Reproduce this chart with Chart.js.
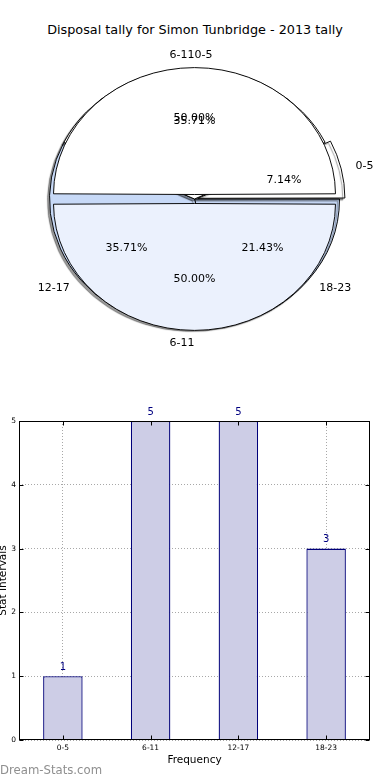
<!DOCTYPE html>
<html>
<head>
<meta charset="utf-8">
<script src="https://cdn.jsdelivr.net/npm/chart.js@4/dist/chart.umd.min.js"></script>
<style>
  html, body { margin: 0; padding: 0; background: #fff; }
  body { width: 390px; height: 780px; position: relative; overflow: hidden; font-family: "DejaVu Sans", sans-serif; }
  #title { position: absolute; left: 0; top: 21px; width: 390px; text-align: center; font-size: 12.8px; color: #000; line-height: 18px; }
  canvas { position: absolute; }
  #pie1, #pie2 { left: 0; top: 0; }
  #bar { left: 0; top: 400px; }
  #wm { position: absolute; left: 0; top: 762px; font-size: 11.7px; font-weight: normal; color: #8f8f8f; line-height: 16px; }
</style>
</head>
<body>
<div id="title">Disposal tally for Simon Tunbridge - 2013 tally</div>
<canvas id="pie1" width="390" height="400"></canvas>
<canvas id="pie2" width="390" height="400"></canvas>
<canvas id="bar" width="390" height="380"></canvas>
<div id="wm">Dream-Stats.com</div>
<script>
// ---- data ----
const categories = ['0-5', '6-11', '12-17', '18-23'];
const frequencies = [1, 5, 5, 3];
// overlapping second pie drawn by the source (two halves, labelled 0-5 and 6-11)
const overlayCategories = ['0-5', '6-11'];
const overlayValues = [7, 7];
const yTickValues = [0, 1, 2, 3, 4, 5];

// matplotlib draws counter-clockwise from 3 o'clock; Chart.js clockwise, so reverse order
const rev = a => a.slice().reverse();

const SQUASH = 0.9;

function squashPlugin(shadow) {
  return {
    id: 'squash',
    beforeDatasetsDraw(chart) {
      const ctx = chart.ctx;
      const a = chart.chartArea;
      const cy = (a.top + a.bottom) / 2;
      ctx.save();
      ctx.translate(0, cy);
      ctx.scale(1, SQUASH);
      ctx.translate(0, -cy);
      if (shadow) {
        ctx.shadowColor = 'rgba(0,0,0,0.4)';
        ctx.shadowOffsetX = -2;
        ctx.shadowOffsetY = 2;
        ctx.shadowBlur = 1;
      }
    },
    afterDatasetsDraw(chart) {
      chart.ctx.restore();
    }
  };
}

function drawPieLabels(ctx, chart, vertAlign) {
  const meta = chart.getDatasetMeta(0);
  const ds = chart.data.datasets[0];
  const total = ds.data.reduce((s, v) => s + v, 0);
  meta.data.forEach((arc, i) => {
    const mid = (arc.startAngle + arc.endAngle) / 2;
    const shift = (arc.options.offset || 0) / 4;
    const circ = arc.endAngle - arc.startAngle;
    const R = arc.outerRadius + shift * (1 - Math.sin(Math.min(Math.PI, circ)));
    const c = Math.cos(mid), s = Math.sin(mid);
    const rl = shift + 1.1 * R;
    const lx = arc.x + c * rl;
    const ly = arc.y + s * rl * SQUASH;
    ctx.textAlign = Math.abs(c) < 1e-6 ? vertAlign(s) : (c > 0 ? 'left' : 'right');
    ctx.fillText(chart.data.labels[i], lx, ly);
    const rp = shift + 0.6 * R;
    ctx.textAlign = 'center';
    const pct = (ds.data[i] / total * 100).toFixed(2) + '%';
    ctx.fillText(pct, arc.x + c * rp, arc.y + s * rp * SQUASH);
  });
}

const pieCommon = {
  responsive: false,
  animation: false,
  rotation: 90,
  layout: { padding: { top: 0, bottom: 2, left: 0, right: 1 } },
  plugins: { legend: { display: false }, tooltip: { enabled: false } },
  events: []
};

// first pie (real tallies)
const pie1 = new Chart(document.getElementById('pie1'), {
  type: 'pie',
  data: {
    labels: rev(categories),
    datasets: [{
      data: rev(frequencies),
      backgroundColor: rev(['#ffffff', '#ffffff', '#c7d9f7', '#c7d9f7']),
      borderColor: '#000',
      borderWidth: 1,
      offset: rev([14, 0, 0, 0])
    }]
  },
  options: Object.assign({}, pieCommon, { radius: 145 }),
  plugins: [squashPlugin(true)]
});

// overlapping second pie, with all pie texts on top
new Chart(document.getElementById('pie2'), {
  type: 'pie',
  data: {
    labels: rev(overlayCategories),
    datasets: [{
      data: rev(overlayValues),
      backgroundColor: rev(['#ffffff', '#ebf1fd']),
      borderColor: '#000',
      borderWidth: 1,
      offset: 20
    }]
  },
  options: Object.assign({}, pieCommon, { radius: 136 }),
  plugins: [squashPlugin(false), {
    id: 'pieText',
    afterDraw(chart) {
      const ctx = chart.ctx;
      ctx.save();
      ctx.fillStyle = '#000';
      ctx.font = '11px "DejaVu Sans"';
      ctx.textBaseline = 'middle';
      drawPieLabels(ctx, pie1, s => 'right');
      drawPieLabels(ctx, chart, s => (s < 0 ? 'left' : 'right'));
      ctx.restore();
    }
  }]
});

// ---- bar chart ----
const frame = {
  id: 'frame',
  afterDatasetsDraw(chart) {
    const ctx = chart.ctx;
    ctx.save();
    ctx.fillStyle = '#000080';
    ctx.font = '10px "DejaVu Sans"';
    ctx.textAlign = 'center';
    ctx.textBaseline = 'middle';
    const meta = chart.getDatasetMeta(0);
    meta.data.forEach((bar, i) => {
      ctx.fillText(String(chart.data.datasets[0].data[i]), bar.x, bar.y - 9);
    });
    ctx.restore();
  },
  afterDraw(chart) {
    const ctx = chart.ctx;
    const a = chart.chartArea;
    const ys = chart.scales.y, xs = chart.scales.x;
    const L = Math.round(a.left) + 0.5, R = Math.round(a.right) - 0.5;
    const T = Math.round(a.top) + 0.5, B = Math.round(a.bottom) - 0.5;
    ctx.save();
    ctx.strokeStyle = '#000';
    ctx.lineWidth = 1;
    ctx.strokeRect(L, T, R - L, B - T);
    ctx.beginPath();
    ys.ticks.forEach(t => {
      const y = Math.round(ys.getPixelForValue(t.value)) + 0.5;
      ctx.moveTo(L, y); ctx.lineTo(L + 4, y);
      ctx.moveTo(R, y); ctx.lineTo(R - 4, y);
    });
    xs.ticks.forEach((t, i) => {
      const x = Math.round(xs.getPixelForTick(i)) + 0.5;
      ctx.moveTo(x, B); ctx.lineTo(x, B - 4);
      ctx.moveTo(x, T); ctx.lineTo(x, T + 4);
    });
    ctx.stroke();
    ctx.restore();
  }
};

const gridOpts = { display: true, offset: false, color: '#a8a8a8', lineWidth: 1, drawTicks: false };

new Chart(document.getElementById('bar'), {
  type: 'bar',
  data: {
    labels: categories,
    datasets: [{
      data: frequencies,
      backgroundColor: '#cdcde6',
      borderColor: '#00007a',
      borderWidth: 1.3,
      barPercentage: 0.45,
      categoryPercentage: 1
    }]
  },
  options: {
    responsive: false,
    animation: false,
    events: [],
    layout: { padding: { top: 21, right: 20, left: 0, bottom: 0 } },
    plugins: { legend: { display: false }, tooltip: { enabled: false } },
    scales: {
      x: {
        grid: gridOpts,
        border: { display: false, dash: [1, 2] },
        ticks: { color: '#000', font: { family: 'DejaVu Sans', size: 7.5 }, padding: 4, maxRotation: 0 },
        title: { display: true, text: 'Frequency', color: '#000', font: { family: 'DejaVu Sans', size: 10.5 }, padding: { top: 0, bottom: 13.5 } },
        afterFit(s) { s.height = 40; }
      },
      y: {
        min: 0, max: 5,
        grid: gridOpts,
        border: { display: false, dash: [1, 2] },
        afterBuildTicks(s) { s.ticks = yTickValues.map(v => ({ value: v })); },
        ticks: { color: '#000', font: { family: 'DejaVu Sans', size: 7.5 }, padding: 3 },
        title: { display: true, text: 'Stat Intervals', color: '#000', font: { family: 'DejaVu Sans', size: 10.5 }, padding: { top: -3, bottom: 0 } },
        afterFit(s) { s.width = 19; }
      }
    }
  },
  plugins: [frame]
});
</script>
</body>
</html>
